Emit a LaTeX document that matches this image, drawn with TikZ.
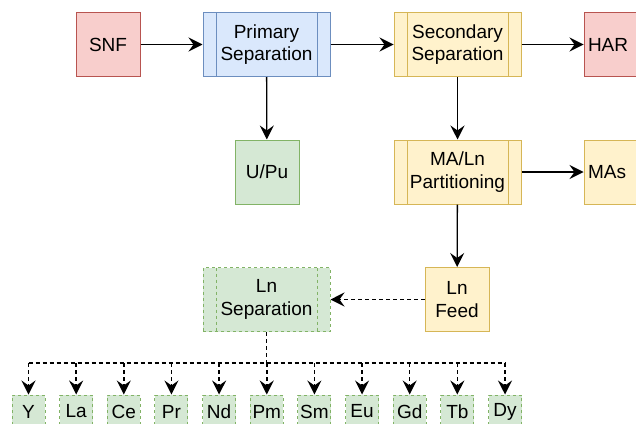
\documentclass[tikz,border=0pt]{standalone}
\usepackage{fontspec}
\setmainfont{Liberation Sans}
\usepackage{tikz}
\usetikzlibrary{arrows.meta,positioning}

\definecolor{redfill}{HTML}{F8CECC}
\definecolor{redline}{HTML}{B85450}
\definecolor{bluefill}{HTML}{DAE8FC}
\definecolor{blueline}{HTML}{6C8EBF}
\definecolor{greenfill}{HTML}{D5E8D4}
\definecolor{greenline}{HTML}{82B366}
\definecolor{yellowfill}{HTML}{FFF2CC}
\definecolor{yellowline}{HTML}{D6B656}

\tikzset{
	bars/.style={path picture={
		\draw[#1] ([xshift=6.5pt]path picture bounding box.north west) -- ([xshift=6.5pt]path picture bounding box.south west)
		([xshift=-6.5pt]path picture bounding box.north east) -- ([xshift=-6.5pt]path picture bounding box.south east);}}
}

\begin{document}
\begin{tikzpicture}[x=0.5pt,y=-0.5pt,line width=0.65pt,>={Stealth[length=7pt,width=7pt,inset=2.5pt]}]
	\tikzstyle{block}=[draw,line width=0.5pt,
	minimum width=32pt,minimum height=32pt,
	inner sep=1pt,align=center,
	font=\fontsize{9.5}{11.2}\selectfont
	]
	\tikzstyle{proc}=[block,minimum width=63.5pt];
	\tikzstyle{rb}=[block,fill=redfill,draw=redline];
	\tikzstyle{yb}=[block,fill=yellowfill,draw=yellowline];
	\tikzstyle{gb}=[block,fill=greenfill,draw=greenline];
	\tikzstyle{elem}=[gb,dashed,dash pattern=on 1.5pt off 1.5pt,minimum width=16.5pt,minimum height=16.5pt,inner sep=0pt];
	\tikzstyle{dashline}=[line width=0.75pt,dashed,dash pattern=on 2pt off 1.5pt];
\useasboundingbox (0,0) rectangle (636,423);
\begin{scope}
\clip (0,0) rectangle (636,423);

\node[rb](snf) at (108,44.5){SNF};
\node[proc,fill=bluefill,draw=blueline,bars=blueline](prim) at (266.5,44.5){Primary\\Separation};
\node[gb](upu) at (267,172){U/Pu};
\node[proc,fill=yellowfill,draw=yellowline,bars=yellowline](sec) at (457.5,44.5){Secondary\\Separation};
\node[rb,align=left,text width=28pt,inner xsep=2pt](har) at (616,44.5){HAR};
\node[proc,fill=yellowfill,draw=yellowline,bars=yellowline](part) at (457.5,172){MA/Ln\\Partitioning};
\node[yb,align=left,text width=28pt,inner xsep=2pt](mas) at (616,172){MAs};
\node[yb](feed) at (457,299.5){Ln\\Feed};
\node[proc,fill=greenfill,draw=greenline,dashed,dash pattern=on 1.5pt off 1.5pt,
	bars={greenline,dashed,dash pattern=on 1.5pt off 1.5pt}](lnsep) at (266.5,299.5){Ln\\Separation};

\foreach \el [count=\i from 0] in {Y,La,Ce,Pr,Nd,Pm,Sm,Eu,Gd,Tb,Dy}
	\node[elem](\el) at (28.5+47.65*\i,411.5){\el};

\coordinate (bus) at (266.5,363);

\draw [->] (snf) -- (prim);
\draw [->] (prim) -- (upu);
\draw [->] (prim) -- (sec);
\draw [->] (sec) -- (har);
\draw [->] (sec) -- (part);
\draw [->] (part) -- (mas);
\draw [->] (part) -- (feed);
\draw [->,dashline] (feed) -- (lnsep);

\draw [dashline] (lnsep) -- (bus);
\draw [dashline] (Y |- bus) -- (Dy |- bus);
\foreach \el in {Y,La,Ce,Pr,Nd,Pm,Sm,Eu,Gd,Tb,Dy}
	\draw [->,dashline] (\el |- bus) -- (\el);

\end{scope}
\end{tikzpicture}
\end{document}
